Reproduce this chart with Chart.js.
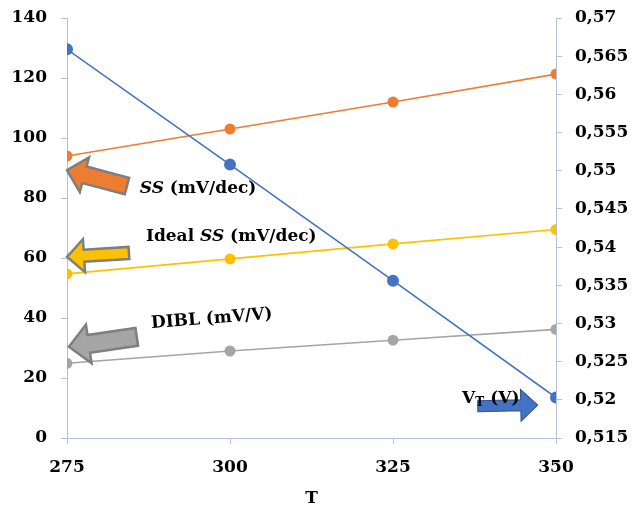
<!DOCTYPE html>
<html>
<head>
<meta charset="utf-8">
<script src="https://cdn.jsdelivr.net/npm/chart.js@4/dist/chart.umd.min.js"></script>
<style>
html,body{margin:0;padding:0;background:#fff;}
#wrap{width:632px;height:506px;position:relative;}
</style>
</head>
<body>
<div id="wrap"><canvas id="c" width="632" height="506"></canvas></div>
<script>
// ---- data ----
const temperatures = [275, 300, 325, 350];
const ssValues = [94.0, 103.0, 112.0, 121.3];        // SS (mV/dec), left axis
const idealSsValues = [54.7, 59.7, 64.7, 69.5];      // Ideal SS (mV/dec), left axis
const diblValues = [24.9, 29.0, 32.6, 36.2];         // DIBL (mV/V), left axis
const vtValues = [0.5659, 0.5508, 0.5356, 0.5203];   // VT (V), right axis
const leftTicks = [0, 20, 40, 60, 80, 100, 120, 140];
const rightTicks = [0.515, 0.52, 0.525, 0.53, 0.535, 0.54, 0.545, 0.55, 0.555, 0.56, 0.565, 0.57];
const xTicks = [275, 300, 325, 350];

const pts = (vals) => temperatures.map((t, i) => ({x: t, y: vals[i]}));

// annotation arrows (in data units: x = T, y = left axis value)
const arrows = [
  {tail:[284.2, 84.0], tip:[275.0, 89.3], sw:17, hw:36, hl:18, fill:'#ED7D31', stroke:'#7F7F7F', lw:2.5},
  {tail:[284.5, 61.7], tip:[275.0, 60.4], sw:12, hw:33, hl:17, fill:'#FFC000', stroke:'#7F7F7F', lw:2.5},
  {tail:[285.7, 33.7], tip:[275.3, 30.4], sw:18, hw:39, hl:20, fill:'#A5A5A5', stroke:'#7F7F7F', lw:2.5},
  {tail:[338.0, 10.6], tip:[347.2, 11.0], sw:11, hw:32, hl:17, fill:'#4472C4', stroke:'#2F528F', lw:1}
];
const notes = [
  {at:[295.1, 83.3], align:'center', rot:0, parts:[{t:'SS', it:true},{t:' (mV/dec)'}]},
  {at:[300.2, 67.0], align:'center', rot:0, parts:[{t:'Ideal '},{t:'SS', it:true},{t:' (mV/dec)'}]},
  {at:[297.2, 39.7], align:'center', rot:-4.5, parts:[{t:'DIBL (mV/V)'}]},
  {at:[335.6, 13.3], align:'left', rot:0, parts:[{t:'V'},{t:'T', sub:true},{t:' (V)'}]}
];

const FAMILY = '"DejaVu Serif", serif';
const annotPlugin = {
  id: 'annot',
  afterDatasetsDraw(chart) {
    const ctx = chart.ctx;
    const sx = chart.scales.x, sy = chart.scales.y;
    const P = (p) => [sx.getPixelForValue(p[0]), sy.getPixelForValue(p[1])];
    arrows.forEach(a => {
      const [x1, y1] = P(a.tail), [x2, y2] = P(a.tip);
      const L = Math.hypot(x2 - x1, y2 - y1), ang = Math.atan2(y2 - y1, x2 - x1);
      ctx.save();
      ctx.translate(x1, y1); ctx.rotate(ang);
      ctx.beginPath();
      ctx.moveTo(0, -a.sw/2); ctx.lineTo(L - a.hl, -a.sw/2); ctx.lineTo(L - a.hl, -a.hw/2);
      ctx.lineTo(L, 0);
      ctx.lineTo(L - a.hl, a.hw/2); ctx.lineTo(L - a.hl, a.sw/2); ctx.lineTo(0, a.sw/2);
      ctx.closePath();
      ctx.fillStyle = a.fill; ctx.fill();
      ctx.lineJoin = 'miter'; ctx.lineWidth = a.lw; ctx.strokeStyle = a.stroke; ctx.stroke();
      ctx.restore();
    });
    notes.forEach(n => {
      const [cx, cy] = P(n.at);
      ctx.save();
      ctx.translate(cx, cy); ctx.rotate(n.rot * Math.PI / 180);
      ctx.fillStyle = '#000'; ctx.textBaseline = 'middle'; ctx.textAlign = 'left';
      const fontOf = (p) => (p.it ? 'italic ' : '') + 'bold ' + (p.sub ? 12 : 17) + 'px ' + FAMILY;
      let w = 0;
      n.parts.forEach(p => { ctx.font = fontOf(p); w += ctx.measureText(p.t).width; });
      let x0 = n.align === 'center' ? -w/2 : 0;
      n.parts.forEach(p => {
        ctx.font = fontOf(p);
        ctx.fillText(p.t, x0, p.sub ? 5 : 0);
        x0 += ctx.measureText(p.t).width;
      });
      ctx.restore();
    });
  }
};

const AXIS = '#B4C0D6';
Chart.defaults.font.family = FAMILY;
Chart.defaults.font.size = 17;
Chart.defaults.font.weight = 'bold';
Chart.defaults.color = '#000';

const mk = (label, vals, color, axis, r) => ({
  label, data: pts(vals), yAxisID: axis,
  borderColor: color, backgroundColor: color,
  borderWidth: 1.6, pointRadius: r, pointHoverRadius: r, pointBorderWidth: 0, tension: 0
});

new Chart(document.getElementById('c'), {
  type: 'line',
  data: {
    datasets: [
      mk('VT (V)', vtValues, '#4472C4', 'y1', 6),
      mk('SS (mV/dec)', ssValues, '#ED7D31', 'y', 5.5),
      mk('Ideal SS (mV/dec)', idealSsValues, '#FFC000', 'y', 5.5),
      mk('DIBL (mV/V)', diblValues, '#A5A5A5', 'y', 5.5)
    ]
  },
  options: {
    responsive: false, animation: false,
    layout: {padding: {top: 18, left: 0, right: 0, bottom: 0}},
    plugins: {legend: {display: false}, tooltip: {enabled: false}},
    scales: {
      x: {
        type: 'linear', min: 275, max: 350,
        afterBuildTicks: (s) => { s.ticks = xTicks.map(v => ({value: v})); },
        afterFit: (s) => { s.height = 68; },
        grid: {drawOnChartArea: false, color: AXIS, tickLength: 6},
        border: {color: AXIS, width: 1},
        ticks: {padding: 13, maxRotation: 0},
        title: {display: true, text: 'T', padding: {top: 0, bottom: -3}, font: {size: 17, weight: 'bold'}}
      },
      y: {
        position: 'left', min: 0, max: 140,
        afterBuildTicks: (s) => { s.ticks = leftTicks.map(v => ({value: v})); },
        afterFit: (s) => { s.width = 67; s.paddingTop = 0; s.paddingBottom = 0; },
        grid: {drawOnChartArea: false, color: AXIS, tickLength: 6},
        border: {color: AXIS, width: 1},
        ticks: {padding: 14}
      },
      y1: {
        position: 'right', min: 0.515, max: 0.57,
        afterBuildTicks: (s) => { s.ticks = rightTicks.map(v => ({value: v})); },
        afterFit: (s) => { s.width = 76; s.paddingTop = 0; s.paddingBottom = 0; },
        grid: {drawOnChartArea: false, color: AXIS, tickLength: 6},
        border: {color: AXIS, width: 1},
        ticks: {padding: 13, callback: (v) => String(Number(v.toFixed(3))).replace('.', ',')}
      }
    }
  },
  plugins: [annotPlugin]
});
</script>
</body>
</html>
